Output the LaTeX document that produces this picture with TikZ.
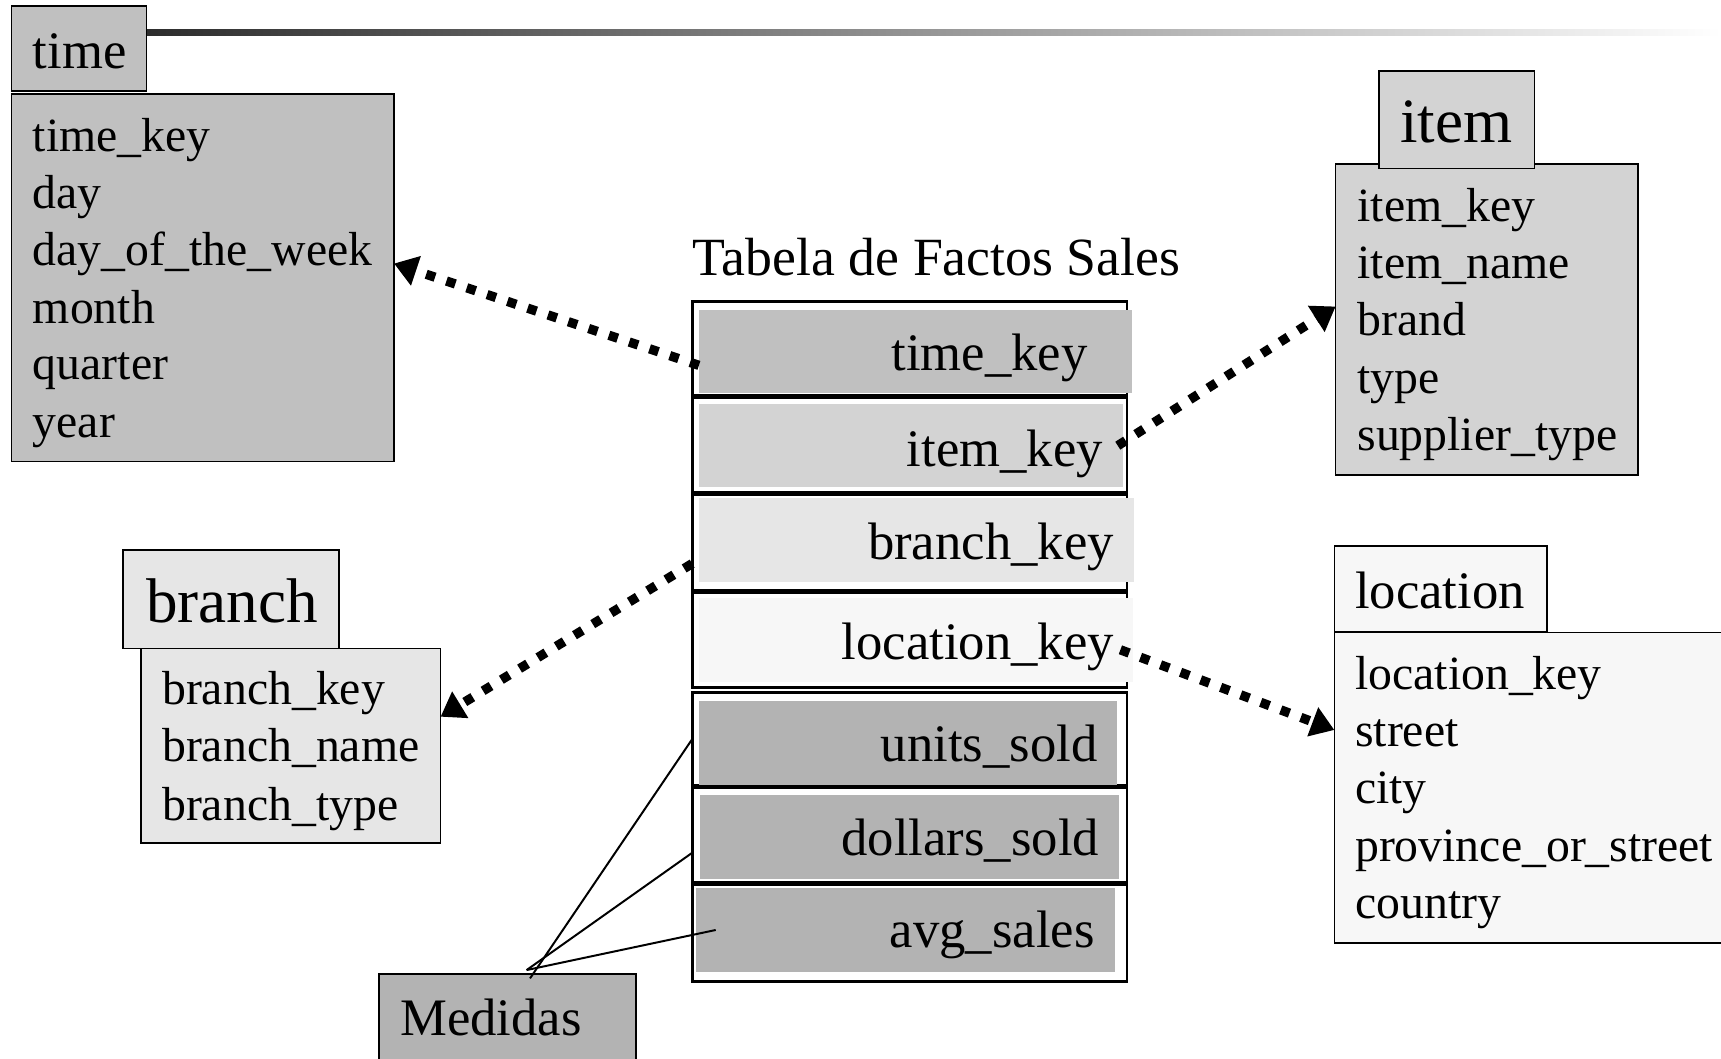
\documentclass[tikz,border=0pt]{standalone}
\usepackage{fontspec}
\setmainfont{Liberation Serif}
\usetikzlibrary{arrows.meta,calc}

\definecolor{cTime}{RGB}{192,192,192}
\definecolor{cItem}{RGB}{211,211,211}
\definecolor{cBranch}{RGB}{230,230,230}
\definecolor{cLoc}{RGB}{247,247,247}
\definecolor{cMeas}{RGB}{179,179,179}
\definecolor{cRule}{RGB}{45,45,45}

% a rectangle node given by its top-left and bottom-right corners
\newcommand\rectnode[6]{%
  \node[#6, anchor=north west, inner sep=0pt, outer sep=0pt,
        minimum width={(#4-#2)*1pt}, minimum height={(#5-#3)*1pt}] (#1) at (#2,#3) {};}

\begin{document}
\begin{tikzpicture}[x=1pt,y=-1pt,
  dimbox/.style={draw=black, line width=1.5pt},
  rowbox/.style={draw=black, line width=2.6pt},
  rowfill/.style={draw=none},
  field/.style={anchor=base west, inner sep=0pt, font=\fontsize{43.5}{52}\selectfont},
  hdr/.style={anchor=base west, inner sep=0pt, font=\fontsize{48}{58}\selectfont},
  bighdr/.style={anchor=base west, inner sep=0pt, font=\fontsize{57.5}{68}\selectfont},
  factkey/.style={anchor=base east, inner sep=0pt, font=\fontsize{48}{58}\selectfont},
  fk/.style={line width=8.5pt, dash pattern=on 8.5pt off 11pt,
             -{Triangle[length=21pt,width=27pt]}},
  measure/.style={line width=1.8pt}
]
\useasboundingbox (0,0) rectangle (1568,964);

% rule along the top edge
\shade[left color=cRule, right color=white] (133.6,26.7) rectangle (1568,31.9);

% ---------- time dimension ----------
\rectnode{timeBody}{10.6}{85.6}{359}{420.6}{dimbox, fill=cTime}
\rectnode{timeHdr}{10.6}{5.5}{133.6}{83}{dimbox, fill=cTime}
\node[hdr] (timeTitle) at (29.8,62.3) {time};
\node[field] (tf1) at (29.8,138.2) {time\_key};
\node[field] (tf2) at (29.8,189.8) {day};
\node[field] (tf3) at (29.8,242)   {day\_of\_the\_week};
\node[field] (tf4) at (29.8,294.6) {month};
\node[field] (tf5) at (29.8,346.2) {quarter};
\node[field] (tf6) at (29.8,398.4) {year};

% ---------- item dimension ----------
\rectnode{itemBody}{1216.9}{149.7}{1492.6}{432.8}{dimbox, fill=cItem}
\rectnode{itemHdr}{1256.4}{64.4}{1397.9}{153.4}{dimbox, fill=cItem}
\node[bighdr] (itemTitle) at (1275.5,130) {item};
\node[field] (if1) at (1236.6,202)   {item\_key};
\node[field] (if2) at (1236.6,253.6) {item\_name};
\node[field] (if3) at (1236.6,305.8) {brand};
\node[field] (if4) at (1236.6,358.4) {type};
\node[field] (if5) at (1236.6,410)   {supplier\_type};

% ---------- branch dimension ----------
\rectnode{branchHdr}{112.1}{501}{309}{590.7}{dimbox, fill=cBranch}
\rectnode{branchBody}{128.5}{590.7}{401.4}{768.3}{dimbox, fill=cBranch}
\node[bighdr] (branchTitle) at (132.9,567.3) {branch};
\node[field] (bf1) at (147.6,642.3) {branch\_key};
\node[field] (bf2) at (147.6,694)   {branch\_name};
\node[field] (bf3) at (147.6,747.1) {branch\_type};

% ---------- location dimension ----------
\rectnode{locBody}{1215.7}{576.4}{1590}{858.9}{dimbox, fill=cLoc}
\rectnode{locHdr}{1215.7}{497.5}{1409.2}{575.5}{dimbox, fill=cLoc}
\node[hdr] (locTitle) at (1234.5,554.2) {location};
\node[field] (lf1) at (1234.5,628.6) {location\_key};
\node[field] (lf2) at (1234.5,680.3) {street};
\node[field] (lf3) at (1234.5,731.9) {city};
\node[field] (lf4) at (1234.5,785.1) {province\_or\_street};
\node[field] (lf5) at (1234.5,836.7) {country};

% ---------- fact table ----------
\node[hdr, font=\fontsize{49}{58}\selectfont] (factTitle) at (631,251) {Tabela de Factos Sales};

\rectnode{row1}{630.6}{274.4}{1026.8}{360.5}{rowbox, fill=white}
\rectnode{row2}{630.6}{362.5}{1026.8}{448.5}{rowbox, fill=white}
\rectnode{row3}{630.6}{451}{1026.8}{538}{rowbox, fill=white}
\rectnode{row4}{630.6}{540}{1026.8}{626}{rowbox, fill=white}
\rectnode{row5}{630.6}{631.2}{1026.8}{715.8}{rowbox, fill=white}
\rectnode{row6}{630.6}{718}{1026.8}{804}{rowbox, fill=white}
\rectnode{row7}{630.6}{806}{1026.8}{894}{rowbox, fill=white}

\rectnode{fTime}{636.8}{282.4}{1031}{358.3}{rowfill, fill=cTime}
\rectnode{fItem}{636.8}{368.1}{1023.4}{444}{rowfill, fill=cItem}
\rectnode{fBranch}{636.8}{454}{1033.2}{530}{rowfill, fill=cBranch}
\rectnode{fLoc}{636.8}{544.5}{1032.6}{621}{rowfill, fill=cLoc}
\rectnode{fUnits}{636.8}{638.4}{1017.4}{715.2}{rowfill, fill=cMeas}
\rectnode{fDollars}{637.8}{724.3}{1019.2}{800.9}{rowfill, fill=cMeas}
\rectnode{fAvg}{634.1}{809.3}{1015.9}{885.3}{rowfill, fill=cMeas}

\node[factkey] (kTime)    at (991,337.7)   {time\_key};
\node[factkey] (kItem)    at (1005,425)    {item\_key};
\node[factkey] (kBranch)  at (1015,509.6)  {branch\_key};
\node[factkey] (kLoc)     at (1015,600.7)  {location\_key};
\node[factkey] (kUnits)   at (1000,694)    {units\_sold};
\node[factkey] (kDollars) at (1001.5,779.6) {dollars\_sold};
\node[factkey] (kAvg)     at (997.5,863.4) {avg\_sales};

% ---------- measures label ----------
\rectnode{medidas}{345.3}{887.4}{579.5}{980}{dimbox, fill=cMeas}
\node[hdr] (medidasTxt) at (364.4,943) {Medidas};

% ---------- foreign keys ----------
\draw[fk] ([yshift=-12.5pt]fTime.west) -- ([yshift=13pt]timeBody.east);
\draw[fk] ([xshift=-5pt]fItem.east) -- ([yshift=12pt]itemBody.west);
\draw[fk] ([yshift=-19pt]row3.west) -- ([yshift=26.5pt]branchBody.east);
\draw[fk] ([xshift=-6pt,yshift=-9pt]row4.east) -- ([yshift=52.6pt]locBody.west);

% ---------- measure pointers ----------
\coordinate (mA) at ([xshift=20.5pt,yshift=-4pt]medidas.north);
\coordinate (mB) at ([xshift=17.4pt,yshift=3.6pt]medidas.north);
\draw[measure] (mA) -- (row5.west);
\draw[measure] (mB) -- ([yshift=-16pt]row6.west);
\draw[measure] (mB) -- ([xshift=18pt]fAvg.west);
\end{tikzpicture}
\end{document}
